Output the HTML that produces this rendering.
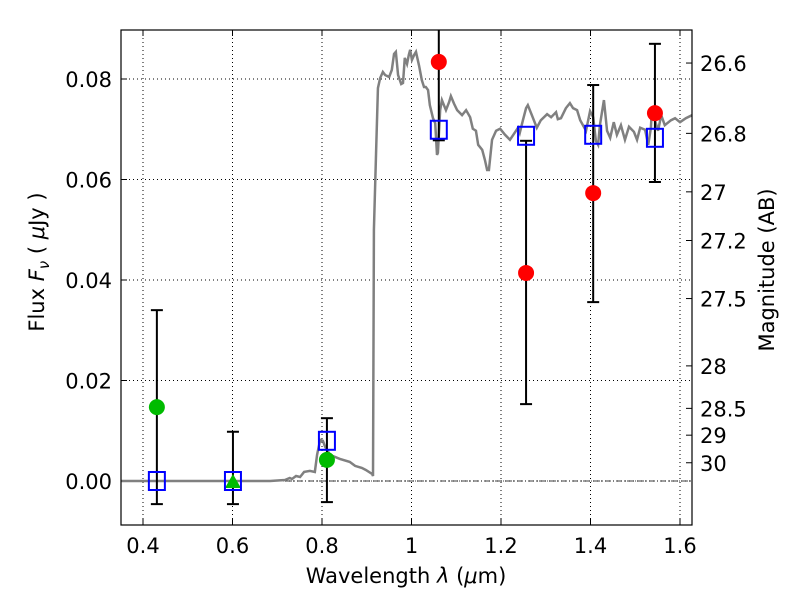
<!DOCTYPE html>
<html><head><meta charset="utf-8"><style>
body{margin:0;background:#fff}
svg text{font-family:"DejaVu Sans","Liberation Sans",sans-serif;fill:#000}
</style></head><body>
<svg id="c" width="800" height="600" xmlns="http://www.w3.org/2000/svg">
<defs><clipPath id="pc"><rect x="121" y="30" width="571" height="495"/></clipPath></defs>
</svg>
<script>
const specLam=[0.351,0.684,0.717,0.728,0.733,0.742,0.751,0.760,0.773,0.784,0.789,0.796,0.802,0.807,0.818,0.840,0.862,0.874,0.889,0.898,0.912,0.914,0.916,0.921,0.925,0.930,0.936,0.941,0.950,0.956,0.961,0.965,0.970,0.977,0.981,0.985,0.990,0.994,0.997,1.001,1.006,1.010,1.017,1.023,1.028,1.032,1.037,1.041,1.048,1.053,1.057,1.059,1.064,1.068,1.077,1.084,1.088,1.095,1.102,1.113,1.122,1.131,1.137,1.144,1.149,1.158,1.164,1.169,1.173,1.180,1.189,1.198,1.209,1.220,1.229,1.238,1.242,1.249,1.256,1.260,1.269,1.280,1.289,1.303,1.312,1.323,1.327,1.334,1.345,1.354,1.361,1.370,1.377,1.390,1.399,1.406,1.412,1.417,1.421,1.430,1.437,1.444,1.452,1.459,1.468,1.477,1.486,1.497,1.504,1.511,1.522,1.529,1.535,1.537,1.544,1.551,1.558,1.566,1.580,1.589,1.600,1.613,1.627];
const specFlux=[0,0,0.0002,0.0006,0.0004,0.0010,0.0008,0.0018,0.0020,0.0018,0.0052,0.0082,0.0080,0.0068,0.0052,0.0044,0.0038,0.0030,0.0026,0.0022,0.0014,0.0010,0.0500,0.0659,0.0782,0.0802,0.0814,0.0808,0.0804,0.0818,0.0850,0.0854,0.0808,0.0790,0.0792,0.0842,0.0830,0.0848,0.0858,0.0838,0.0848,0.0854,0.0826,0.0798,0.0784,0.0784,0.0778,0.0748,0.0722,0.0712,0.0649,0.0653,0.0738,0.0758,0.0738,0.0754,0.0766,0.0751,0.0738,0.0728,0.0738,0.0724,0.0701,0.0697,0.0669,0.0659,0.0639,0.0619,0.0619,0.0679,0.0697,0.0701,0.0689,0.0679,0.0691,0.0703,0.0693,0.0718,0.0742,0.0748,0.0728,0.0703,0.0718,0.0730,0.0724,0.0734,0.0720,0.0722,0.0742,0.0752,0.0742,0.0738,0.0718,0.0697,0.0736,0.0724,0.0677,0.0669,0.0708,0.0758,0.0697,0.0683,0.0714,0.0689,0.0708,0.0679,0.0705,0.0695,0.0679,0.0703,0.0699,0.0669,0.0703,0.0738,0.0718,0.0697,0.0728,0.0708,0.0718,0.0722,0.0714,0.0722,0.0728];
const bandLam=[0.431,0.601,0.811,1.061,1.256,1.406,1.544];
const obsFlux=[0.0147,-0.0002,0.0042,0.0834,0.0414,0.0573,0.0732];
const errLo=[-0.0046,-0.0046,-0.0042,0.0678,0.0153,0.0356,0.0595];
const errHi=[0.0340,0.0098,0.0125,0.0990,0.0677,0.0788,0.0870];
const obsKind=["gc","gt","gc","r","r","r","r"];
const modelFlux=[0,0,0.0080,0.0699,0.0687,0.0689,0.0683];
const xTicks=[0.4,0.6,0.8,1.0,1.2,1.4,1.6];
const xTickLabels=["0.4","0.6","0.8","1","1.2","1.4","1.6"];
const yTicks=[0,0.02,0.04,0.06,0.08];
const yTickLabels=["0.00","0.02","0.04","0.06","0.08"];
const magTicks=[26.6,26.8,27,27.2,27.5,28,28.5,29,30];
const magLabels=["26.6","26.8","27","27.2","27.5","28","28.5","29","30"];

const L=121,R=692,T=30,B=525;
const X=v=>143+(v-0.4)*447.5;
const Y=v=>481-v*5025;
const svg=document.getElementById('c');
const NS="http://www.w3.org/2000/svg";
function mk(t,a,p){const e=document.createElementNS(NS,t);for(const k in a)e.setAttribute(k,a[k]);(p||svg).appendChild(e);return e;}
const FS=21;
xTicks.forEach((v,i)=>{
 const g=mk('line',{x1:X(v),x2:X(v),y1:T,y2:B,stroke:'#000','stroke-dasharray':'1,3','stroke-width':1});
 
 
 mk('line',{x1:X(v),x2:X(v),y1:B,y2:B-6,stroke:'#000'});
 mk('line',{x1:X(v),x2:X(v),y1:T,y2:T+6,stroke:'#000'});
 const t=mk('text',{x:X(v),y:B+28,'text-anchor':'middle','font-size':FS});t.textContent=xTickLabels[i];
 
 
});
yTicks.forEach((v,i)=>{
 const g=mk('line',{x1:L,x2:R,y1:Y(v),y2:Y(v),stroke:'#000','stroke-dasharray':'1,3','stroke-width':1});
 
 
 mk('line',{x1:L,x2:L+6,y1:Y(v),y2:Y(v),stroke:'#000'});
 const t=mk('text',{x:L-9,y:Y(v)+8,'text-anchor':'end','font-size':FS});t.textContent=yTickLabels[i];
 
 
});
magTicks.forEach((m,i)=>{
 const y=Y(Math.pow(10,(23.9-m)/2.5));
 mk('line',{x1:R,x2:R-6,y1:y,y2:y,stroke:'#000'});
 const t=mk('text',{x:R+8,y:y+8,'font-size':FS});t.textContent=magLabels[i];
 
 
});
const plot=mk('g',{'clip-path':'url(#pc)'});


const z=mk('line',{x1:L,x2:R,y1:Y(0),y2:Y(0),stroke:'#000','stroke-dasharray':'6,2,1,2','stroke-width':0.8},plot);


const sp=mk('polyline',{points:specLam.map((l,i)=>X(l)+','+Y(specFlux[i])).join(' '),fill:'none',stroke:'#808080','stroke-width':2.5},plot);


bandLam.forEach((l,i)=>{
 const g=mk('g',{},plot);
 
 
 const x=X(l);
 mk('line',{x1:x,x2:x,y1:Y(errLo[i]),y2:Y(errHi[i]),stroke:'#000','stroke-width':2},g);
 mk('line',{x1:x-6,x2:x+6,y1:Y(errLo[i]),y2:Y(errLo[i]),stroke:'#000','stroke-width':2},g);
 mk('line',{x1:x-6,x2:x+6,y1:Y(errHi[i]),y2:Y(errHi[i]),stroke:'#000','stroke-width':2},g);
});
bandLam.forEach((l,i)=>{
 const x=X(l),y=Y(obsFlux[i]);let e;
 if(obsKind[i]==='gt'){e=mk('polygon',{points:`${x},${y-8} ${x-8},${y+6} ${x+8},${y+6}`,fill:'#00bb00'},plot);}
 else e=mk('circle',{cx:x,cy:y,r:8,fill:obsKind[i]==='r'?'#ff0000':'#00bb00'},plot);
 
 
});
bandLam.forEach((l,i)=>{
 const s=mk('rect',{x:X(l)-8,y:Y(modelFlux[i])-9,width:16,height:18,fill:'none',stroke:'#0000ff','stroke-width':2},plot);
 
 
});
const fr=mk('rect',{x:L,y:T,width:R-L,height:B-T,fill:'none',stroke:'#000','stroke-width':1.2});


let t=mk('text',{x:406,y:583,'text-anchor':'middle','font-size':FS});
t.innerHTML='Wavelength  <tspan font-style="italic">λ</tspan> (<tspan font-style="italic">μ</tspan>m)';


t=mk('text',{x:0,y:0,'text-anchor':'middle','font-size':FS,transform:'translate(44,262) rotate(-90)'});
t.innerHTML='Flux  <tspan font-style="italic">F</tspan><tspan font-style="italic" font-size="15" dy="5">ν</tspan><tspan dy="-5">  (  </tspan><tspan font-style="italic">μ</tspan>Jy )';


t=mk('text',{x:0,y:0,'text-anchor':'middle','font-size':FS,transform:'translate(774,270) rotate(-90)'});
t.textContent='Magnitude (AB)';


</script>
</body></html>
